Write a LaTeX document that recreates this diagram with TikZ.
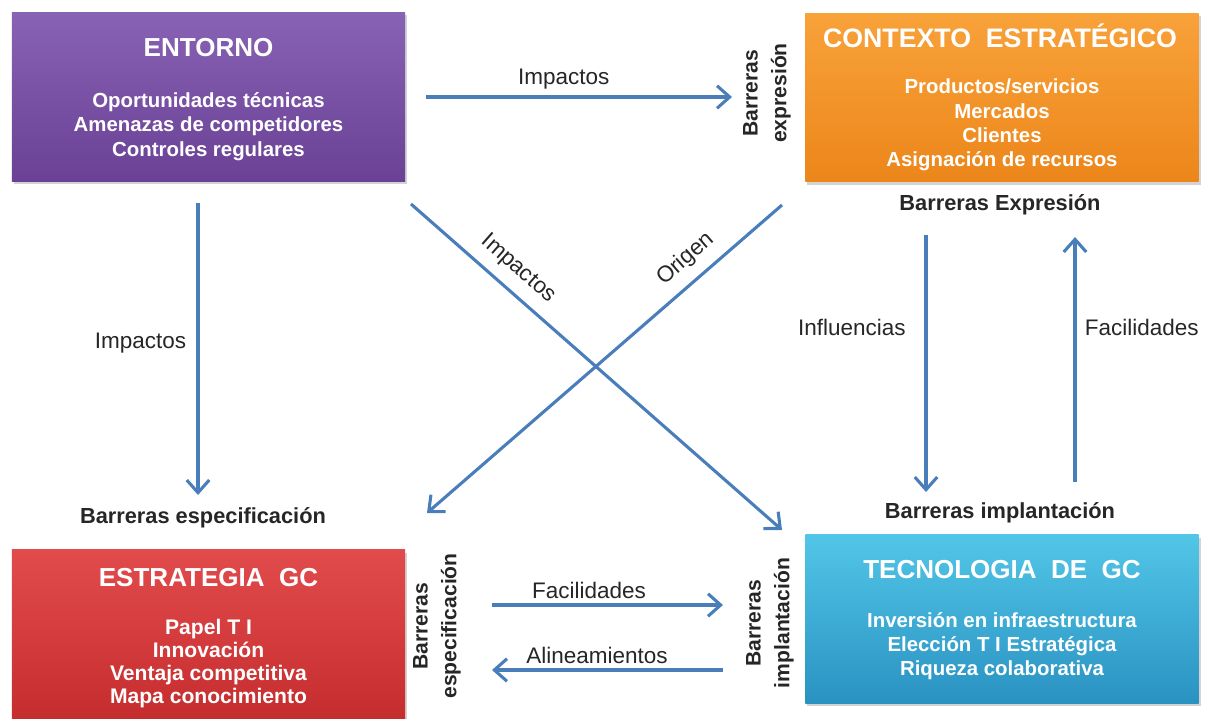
\documentclass[tikz,border=0pt]{standalone}
\usepackage{fontspec}
\setmainfont{Liberation Sans}
\usepackage{tikz}
\usetikzlibrary{arrows.meta,shadows}
\usepackage{xcolor}

\definecolor{flowblue}{HTML}{4A7EBB}
\definecolor{entornoTop}{HTML}{8862B4}
\definecolor{entornoBot}{HTML}{6A4195}
\definecolor{contextoTop}{HTML}{F8A23A}
\definecolor{contextoBot}{HTML}{EC861A}
\definecolor{estrategiaTop}{HTML}{E24B4B}
\definecolor{estrategiaBot}{HTML}{C42B2D}
\definecolor{tecnoTop}{HTML}{52C6E7}
\definecolor{tecnoBot}{HTML}{2A92C2}

\begin{document}
\begin{tikzpicture}[x=0.025cm,y=-0.025cm,
    every node/.style={font=\fontsize{16}{19}\selectfont, text=black!85},
    box/.style={rectangle, minimum width=9.83cm, minimum height=4.22cm, inner sep=0pt,
        drop shadow={opacity=0.35, shadow xshift=1.5pt, shadow yshift=-2pt}},
    boxtitle/.style={text=white, font=\fontsize{18.5}{22}\selectfont\bfseries},
    boxitems/.style={text=white, align=center, font=\fontsize{14.5}{17.3}\selectfont\bfseries},
    barrier/.style={font=\fontsize{15.5}{20.5}\selectfont\bfseries, align=center},
    flow/.style={draw=flowblue, line width=2.2pt, -{Straight Barb[length=9pt,width=16pt]}}]
    \useasboundingbox (0,0) rectangle (1209,718);

    % -------------------------
    % Four boxes
    % -------------------------
    \node[box, top color=entornoTop, bottom color=entornoBot] (entorno) at (208.5,97) {};
    \node[box, top color=contextoTop, bottom color=contextoBot] (contexto) at (1002,97.5) {};
    \node[box, minimum height=4.4cm, top color=estrategiaTop, bottom color=estrategiaBot] (estrategia) at (208.5,638) {};
    \node[box, minimum height=4.2cm, top color=tecnoTop, bottom color=tecnoBot] (tecnologia) at (1002,619) {};

    % Texts inside the boxes
    \node[boxtitle] (entornoT) at (208.5,48) {ENTORNO};
    \node[boxitems] (entornoI) at (208.5,126.5) {Oportunidades técnicas\\Amenazas de competidores\\Controles regulares};

    \node[boxtitle, font=\fontsize{19}{22}\selectfont\bfseries] (contextoT) at (1000,36) {CONTEXTO\ \ ESTRATÉGICO};
    \node[boxitems] (contextoI) at (1002,125) {Productos/servicios\\Mercados\\Clientes\\Asignación de recursos};

    \node[boxtitle] (estrategiaT) at (208.5,578) {ESTRATEGIA\ \ GC};
    \node[boxitems, font=\fontsize{15}{16.2}\selectfont\bfseries] (estrategiaI) at (208.5,663.5) {Papel T I\\Innovación\\Ventaja competitiva\\Mapa conocimiento};

    \node[boxtitle] (tecnologiaT) at (1002,570) {TECNOLOGIA\ \ DE\ \ GC};
    \node[boxitems] (tecnologiaI) at (1002,646) {Inversión en infraestructura\\Elección T I Estratégica\\Riqueza colaborativa};

    % -------------------------
    % Barriers
    % -------------------------
    \node[barrier] (bexp) at (1000,205) {Barreras Expresión};
    \node[barrier] (bespec) at (203,518) {Barreras especificación};
    \node[barrier] (bimpl) at (1000,513) {Barreras implantación};
    \node[barrier, rotate=90, font=\fontsize{15}{20.5}\selectfont\bfseries] (bexpV) at (767,93) {Barreras\\expresión};
    \node[barrier, rotate=90, font=\fontsize{15}{20.5}\selectfont\bfseries] (bespecV) at (437,626) {Barreras\\especificación};
    \node[barrier, rotate=90, font=\fontsize{15}{20.5}\selectfont\bfseries] (bimplV) at (770,623) {Barreras\\implantación};

    % -------------------------
    % Arrows
    % -------------------------
    \coordinate (impTopA) at (426,97);   \coordinate (impTopB) at (732,97);
    \coordinate (impLeftA) at (198,203); \coordinate (impLeftB) at (198,495);
    \coordinate (impDiagA) at (411,204); \coordinate (impDiagB) at (782,530);
    \coordinate (origenA) at (782,205);  \coordinate (origenB) at (427,513);
    \coordinate (inflA) at (926,235);    \coordinate (inflB) at (926,492);
    \coordinate (facUpA) at (1075,482);  \coordinate (facUpB) at (1075,237);
    \coordinate (facA) at (492,605);     \coordinate (facB) at (723,605);
    \coordinate (alinA) at (723,670);    \coordinate (alinB) at (492,670);

    \draw[flow] (impTopA) -- node[pos=0.45, above=1pt] {Impactos} (impTopB);
    \draw[flow] (impLeftA) -- node[pos=0.48, left=4pt] {Impactos} (impLeftB);
    \draw[flow] (impDiagA) -- node[pos=0.25, sloped, above=4pt] {Impactos} (impDiagB);
    \draw[flow] (origenA) -- node[pos=0.23, sloped, above=4pt] {Origen} (origenB);
    \draw[flow] (inflA) -- node[pos=0.36, left=10pt] {Influencias} (inflB);
    \draw[flow] (facUpA) -- node[pos=0.63, right=2.5pt] {Facilidades} (facUpB);
    \draw[flow] (facA) -- node[pos=0.42, above=0pt] {Facilidades} (facB);
    \draw[flow] (alinA) -- node[pos=0.545, above=0pt] {Alineamientos} (alinB);

\end{tikzpicture}
\end{document}
